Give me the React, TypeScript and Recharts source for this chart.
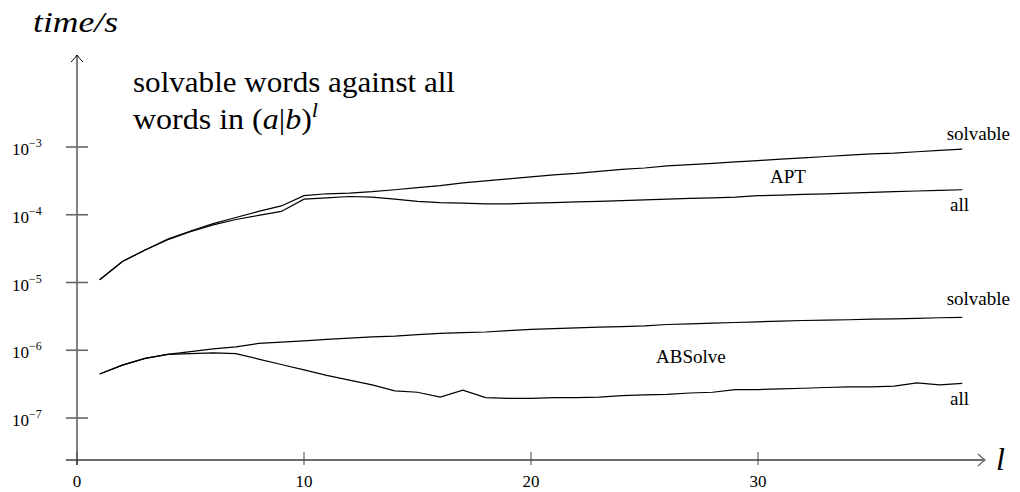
import { Line, LineChart, XAxis, YAxis } from "recharts";

const lengths = [
  1, 2, 3, 4, 5, 6, 7, 8, 9, 10, 11, 12, 13, 14, 15, 16, 17, 18, 19, 20,
  21, 22, 23, 24, 25, 26, 27, 28, 29, 30, 31, 32, 33, 34, 35, 36, 37, 38, 39,
];

// seconds
const aptSolvable = [
  1.1e-5, 2.04e-5, 3.02e-5, 4.37e-5, 5.75e-5, 7.41e-5, 9.12e-5, 1.12e-4, 1.35e-4, 1.91e-4,
  2.04e-4, 2.09e-4, 2.19e-4, 2.34e-4, 2.51e-4, 2.69e-4, 2.95e-4, 3.16e-4, 3.39e-4, 3.63e-4,
  3.89e-4, 4.07e-4, 4.37e-4, 4.68e-4, 4.9e-4, 5.25e-4, 5.5e-4, 5.75e-4, 6.03e-4, 6.31e-4,
  6.61e-4, 6.92e-4, 7.24e-4, 7.59e-4, 7.94e-4, 8.13e-4, 8.51e-4, 8.91e-4, 9.33e-4,
];

const aptAll = [
  1.1e-5, 2.04e-5, 3.02e-5, 4.27e-5, 5.62e-5, 7.08e-5, 8.51e-5, 9.77e-5, 1.12e-4, 1.7e-4,
  1.78e-4, 1.86e-4, 1.82e-4, 1.7e-4, 1.58e-4, 1.51e-4, 1.48e-4, 1.45e-4, 1.45e-4, 1.48e-4,
  1.51e-4, 1.55e-4, 1.58e-4, 1.62e-4, 1.66e-4, 1.7e-4, 1.74e-4, 1.78e-4, 1.82e-4, 1.91e-4,
  1.95e-4, 2.0e-4, 2.04e-4, 2.09e-4, 2.14e-4, 2.19e-4, 2.24e-4, 2.29e-4, 2.34e-4,
];

const absSolvable = [
  4.47e-7, 6.03e-7, 7.59e-7, 8.71e-7, 9.55e-7, 1.05e-6, 1.12e-6, 1.26e-6, 1.32e-6, 1.38e-6,
  1.45e-6, 1.51e-6, 1.58e-6, 1.62e-6, 1.7e-6, 1.78e-6, 1.82e-6, 1.86e-6, 1.95e-6, 2.04e-6,
  2.09e-6, 2.14e-6, 2.19e-6, 2.24e-6, 2.29e-6, 2.4e-6, 2.45e-6, 2.51e-6, 2.57e-6, 2.63e-6,
  2.69e-6, 2.75e-6, 2.78e-6, 2.82e-6, 2.88e-6, 2.9e-6, 2.95e-6, 3.02e-6, 3.05e-6,
];

const absAll = [
  4.47e-7, 6.03e-7, 7.59e-7, 8.71e-7, 8.91e-7, 9.12e-7, 8.91e-7, 7.41e-7, 6.17e-7, 5.13e-7,
  4.27e-7, 3.63e-7, 3.09e-7, 2.51e-7, 2.4e-7, 2.04e-7, 2.57e-7, 2.0e-7, 1.95e-7, 1.95e-7,
  2.0e-7, 2.0e-7, 2.04e-7, 2.14e-7, 2.19e-7, 2.24e-7, 2.34e-7, 2.4e-7, 2.63e-7, 2.63e-7,
  2.69e-7, 2.75e-7, 2.82e-7, 2.88e-7, 2.88e-7, 2.95e-7, 3.31e-7, 3.09e-7, 3.24e-7,
];

const xTicks = [0, 10, 20, 30];
const yTicks = [1e-7, 1e-6, 1e-5, 1e-4, 1e-3];

const rows = lengths.map((l, i) => ({
  l,
  aptSolvable: aptSolvable[i],
  aptAll: aptAll[i],
  absSolvable: absSolvable[i],
  absAll: absAll[i],
}));

const FONT = "'Liberation Serif', 'Times New Roman', serif";
const serif = { fontFamily: FONT };
// wrapper is pulled up/left by the body margin, so these are page pixels
const W = 1012;
const H = 492;
const LEFT = 77;
const TOP = 55;
const RIGHT = 985;
const BOTTOM = 460;

function XTick(props: any) {
  const { x, payload } = props;
  return (
    <g>
      <line x1={x} x2={x} y1={BOTTOM - 8} y2={BOTTOM + 5} stroke="#444" strokeWidth={1} />
      <text x={x} y={487} textAnchor="middle" style={serif} fontSize={17} fill="#000">
        {payload.value}
      </text>
    </g>
  );
}

function YTick(props: any) {
  const { y, payload } = props;
  const k = Math.round(Math.log10(payload.value));
  return (
    <g>
      <line x1={LEFT - 11} x2={LEFT + 11} y1={y} y2={y} stroke="#666" strokeWidth={1.6} />
      <text x={12} y={y + 8} style={serif} fontSize={17} fill="#000">
        10
        <tspan dy={-8} fontSize={12}>
          {"\u2212" + Math.abs(k)}
        </tspan>
      </text>
    </g>
  );
}

const lineProps = {
  type: "linear" as const,
  dot: false,
  stroke: "#000",
  strokeWidth: 1.2,
  isAnimationActive: false,
};

export default function App() {
  return (
    <div style={{ position: "relative", width: W, height: H, margin: "-8px 0 0 -8px" }}>
      <LineChart
        width={W}
        height={H}
        data={rows}
        margin={{ top: TOP, right: W - RIGHT, bottom: H - BOTTOM - 24, left: 0 }}
      >
        <XAxis
          type="number"
          dataKey="l"
          domain={[0, 40]}
          ticks={xTicks}
          allowDataOverflow
          height={24}
          axisLine={{ stroke: "#6e6e6e", strokeWidth: 2 }}
          tickLine={false}
          tick={XTick}
        />
        <YAxis
          type="number"
          scale="log"
          domain={[2.4e-8, 2.28e-2]}
          ticks={yTicks}
          allowDataOverflow
          width={LEFT}
          axisLine={{ stroke: "#000", strokeWidth: 1 }}
          tickLine={false}
          tick={YTick}
        />
        <Line dataKey="aptSolvable" {...lineProps} />
        <Line dataKey="aptAll" {...lineProps} />
        <Line dataKey="absSolvable" {...lineProps} />
        <Line dataKey="absAll" {...lineProps} />
      </LineChart>

      <svg
        width={W}
        height={H}
        style={{ position: "absolute", left: 0, top: 0, pointerEvents: "none", fontFamily: FONT }}
      >
        {/* axis extensions + arrow heads */}
        <line x1={LEFT - 11} x2={LEFT} y1={BOTTOM} y2={BOTTOM} stroke="#6e6e6e" strokeWidth={2} />
        <line x1={LEFT} x2={LEFT} y1={BOTTOM} y2={BOTTOM + 5} stroke="#000" strokeWidth={1} />
        <path
          d={`M${LEFT - 6},${TOP + 7} Q${LEFT - 2},${TOP + 3} ${LEFT},${TOP} Q${LEFT + 2},${TOP + 3} ${LEFT + 6},${TOP + 7}`}
          stroke="#000"
          strokeWidth={1}
          fill="none"
        />
        <path
          d={`M${RIGHT - 7},${BOTTOM - 6} Q${RIGHT - 3},${BOTTOM - 2} ${RIGHT},${BOTTOM} Q${RIGHT - 3},${BOTTOM + 2} ${RIGHT - 7},${BOTTOM + 6}`}
          stroke="#6e6e6e"
          strokeWidth={1.5}
          fill="none"
        />

        {/* axis titles */}
        <text
          x={33}
          y={32}
          style={serif}
          fontStyle="italic"
          fontSize={29}
          textLength={85}
          lengthAdjust="spacingAndGlyphs"
          fill="#000"
        >
          time/s
        </text>
        <text x={996} y={470} style={serif} fontStyle="italic" fontSize={32} fill="#000">
          l
        </text>

        {/* caption */}
        <text
          x={133}
          y={92}
          style={serif}
          fontSize={29}
          textLength={322}
          lengthAdjust="spacingAndGlyphs"
          fill="#000"
        >
          solvable words against all
        </text>
        <text
          x={133}
          y={129}
          style={serif}
          fontSize={29}
          textLength={185}
          lengthAdjust="spacingAndGlyphs"
          fill="#000"
        >
          words in (<tspan fontStyle="italic">a</tspan>|<tspan fontStyle="italic">b</tspan>)
          <tspan fontStyle="italic" fontSize={20} dy={-12}>
            l
          </tspan>
        </text>

        {/* series labels */}
        <g style={serif} fontSize={19} fill="#000">
          <text x={1010} y={140} textAnchor="end">solvable</text>
          <text x={770} y={183}>APT</text>
          <text x={950} y={211}>all</text>
          <text x={1010} y={305} textAnchor="end">solvable</text>
          <text x={656} y={363}>ABSolve</text>
          <text x={950} y={405}>all</text>
        </g>
      </svg>
    </div>
  );
}
